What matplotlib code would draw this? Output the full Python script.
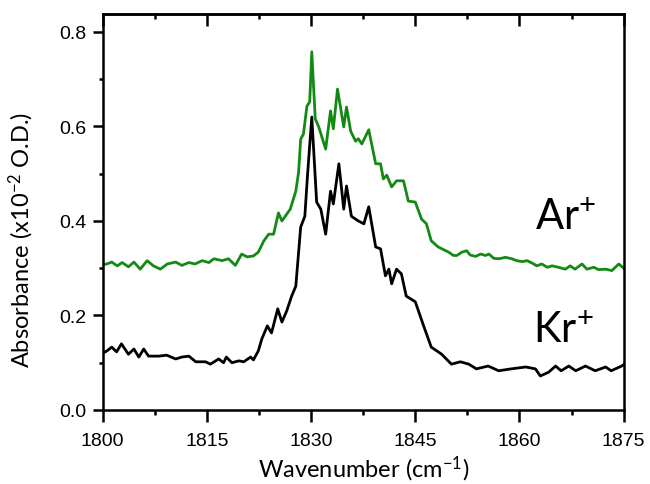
import numpy as np
import matplotlib
matplotlib.use("Agg")
import matplotlib.pyplot as plt
from matplotlib.ticker import MultipleLocator

plt.rcParams['font.family'] = ['Liberation Sans', 'DejaVu Sans']
plt.rcParams['mathtext.fontset'] = 'custom'
plt.rcParams['mathtext.rm'] = 'Lato'
plt.rcParams['mathtext.it'] = 'Lato'

# Ar+ trace (green)
x_ar = [1800.0, 1800.6, 1801.3, 1802.1, 1802.8, 1803.7, 1804.5, 1805.4, 1806.4, 1807.3,
        1808.3, 1809.3, 1810.5, 1811.4, 1812.4, 1813.3, 1814.3, 1815.3, 1816.0, 1817.2,
        1818.1, 1819.1, 1820.0, 1820.8, 1821.7, 1822.4, 1823.2, 1823.9, 1824.6, 1825.3,
        1825.8, 1827.0, 1827.8, 1828.2, 1828.5, 1828.9, 1829.4, 1829.8, 1830.1, 1830.6,
        1831.1, 1832.1, 1832.8, 1833.2, 1833.8, 1834.7, 1835.1, 1835.7, 1836.4, 1836.8,
        1837.3, 1838.3, 1839.3, 1840.0, 1840.4, 1840.9, 1841.6, 1842.3, 1843.3, 1844.0,
        1845.0, 1845.9, 1846.6, 1847.3, 1848.3, 1849.8, 1850.5, 1851.0, 1851.7, 1852.4,
        1852.9, 1853.7, 1854.4, 1855.1, 1855.6, 1856.3, 1857.0, 1858.0, 1858.9, 1859.6,
        1860.4, 1861.1, 1861.8, 1862.5, 1863.2, 1864.0, 1864.7, 1865.6, 1866.6, 1867.3,
        1868.0, 1869.0, 1869.7, 1870.7, 1871.4, 1872.4, 1873.3, 1874.3, 1875.0]
y_ar = [0.308, 0.309, 0.313, 0.305, 0.312, 0.303, 0.313, 0.298, 0.316, 0.305,
        0.298, 0.309, 0.313, 0.306, 0.312, 0.309, 0.316, 0.312, 0.320, 0.316,
        0.320, 0.306, 0.330, 0.324, 0.326, 0.334, 0.358, 0.372, 0.372, 0.417,
        0.400, 0.425, 0.463, 0.503, 0.573, 0.584, 0.643, 0.652, 0.758, 0.616,
        0.599, 0.552, 0.633, 0.595, 0.679, 0.599, 0.641, 0.590, 0.569, 0.574,
        0.563, 0.593, 0.521, 0.521, 0.489, 0.497, 0.472, 0.485, 0.485, 0.442,
        0.440, 0.404, 0.394, 0.358, 0.345, 0.334, 0.327, 0.327, 0.334, 0.337,
        0.328, 0.325, 0.330, 0.327, 0.330, 0.321, 0.320, 0.323, 0.320, 0.316,
        0.314, 0.316, 0.311, 0.305, 0.309, 0.302, 0.305, 0.302, 0.298, 0.305,
        0.298, 0.309, 0.298, 0.302, 0.297, 0.298, 0.295, 0.309, 0.300]

# Kr+ trace (black)
x_kr = [1800.0, 1800.6, 1801.3, 1802.0, 1802.7, 1803.7, 1804.5, 1805.2, 1805.9, 1806.6,
        1808.1, 1809.2, 1810.5, 1811.4, 1812.4, 1813.4, 1814.8, 1815.5, 1816.7, 1817.4,
        1817.8, 1818.6, 1819.6, 1820.3, 1821.3, 1821.7, 1822.4, 1822.9, 1823.7, 1824.3,
        1825.2, 1825.8, 1826.5, 1827.2, 1827.8, 1828.5, 1829.1, 1829.5, 1830.1, 1830.8,
        1831.4, 1832.1, 1832.8, 1833.2, 1834.0, 1834.7, 1835.1, 1835.8, 1836.8, 1837.6,
        1838.3, 1839.3, 1840.0, 1840.7, 1841.2, 1841.6, 1842.3, 1843.0, 1843.7, 1845.0,
        1846.2, 1847.3, 1848.8, 1850.2, 1851.5, 1852.7, 1853.8, 1855.5, 1857.0, 1858.8,
        1860.9, 1862.3, 1863.0, 1864.2, 1865.2, 1866.0, 1867.1, 1868.1, 1869.5, 1870.9,
        1872.4, 1873.2, 1874.7, 1875.0]
y_kr = [0.120, 0.125, 0.133, 0.123, 0.140, 0.118, 0.129, 0.112, 0.129, 0.114,
        0.114, 0.116, 0.108, 0.112, 0.114, 0.102, 0.102, 0.097, 0.108, 0.100,
        0.112, 0.100, 0.104, 0.102, 0.112, 0.106, 0.125, 0.150, 0.178, 0.163,
        0.214, 0.186, 0.210, 0.241, 0.262, 0.387, 0.410, 0.500, 0.620, 0.440,
        0.425, 0.372, 0.463, 0.436, 0.521, 0.425, 0.474, 0.410, 0.400, 0.394,
        0.430, 0.345, 0.341, 0.284, 0.298, 0.267, 0.298, 0.288, 0.241, 0.229,
        0.178, 0.133, 0.118, 0.097, 0.102, 0.097, 0.087, 0.093, 0.083, 0.087,
        0.091, 0.087, 0.072, 0.080, 0.093, 0.083, 0.093, 0.083, 0.093, 0.083,
        0.091, 0.083, 0.093, 0.096]

fig = plt.figure(figsize=(6.5, 4.85), dpi=100)
ax = fig.add_axes([0.158, 0.1526, 0.8015, 0.8165])

ax.plot(x_ar, y_ar, color='#138a13', lw=2.0)
ax.plot(x_kr, y_kr, color='black', lw=2.0)

ax.set_xlim(1800, 1875)
ax.set_ylim(0, 0.838)
ax.xaxis.set_major_locator(MultipleLocator(15))
ax.xaxis.set_minor_locator(MultipleLocator(7.5))
ax.yaxis.set_major_locator(MultipleLocator(0.2))
ax.yaxis.set_minor_locator(MultipleLocator(0.1))
ax.yaxis.set_major_formatter(plt.FormatStrFormatter('%.1f'))

for s in ax.spines.values():
    s.set_linewidth(1.8)

ax.tick_params(axis='x', which='major', direction='out', length=8.5, width=1.8, labelsize=14, pad=7)
ax.tick_params(axis='x', which='minor', direction='out', length=3.5, width=1.8)
ax.tick_params(axis='y', which='major', direction='out', length=7, width=1.8, labelsize=14, pad=5)
ax.tick_params(axis='y', which='minor', direction='out', length=3, width=1.8)

# top ticks point inward
sec = ax.secondary_xaxis('top')
sec.xaxis.set_major_locator(MultipleLocator(15))
sec.xaxis.set_minor_locator(MultipleLocator(7.5))
sec.tick_params(which='major', direction='in', length=8.5, width=1.8, labeltop=False)
sec.tick_params(which='minor', direction='in', length=3.5, width=1.8)
sec.spines['top'].set_linewidth(1.8)

ax.set_xlabel('Wavenumber (cm$^{-1}$)', family='Lato', fontsize=17)
ax.set_ylabel('Absorbance (x10$^{-2}$ O.D.)', family='Lato', fontsize=17)
ax.xaxis.set_label_coords(0.501, -0.11)
ax.yaxis.set_label_coords(-0.128, 0.432)

ax.text(1862.3, 0.383, 'Ar$^{+}$', family='Lato', fontsize=30)
ax.text(1862.0, 0.144, 'Kr$^{+}$', family='Lato', fontsize=30)

fig.savefig('out.png', dpi=100)
